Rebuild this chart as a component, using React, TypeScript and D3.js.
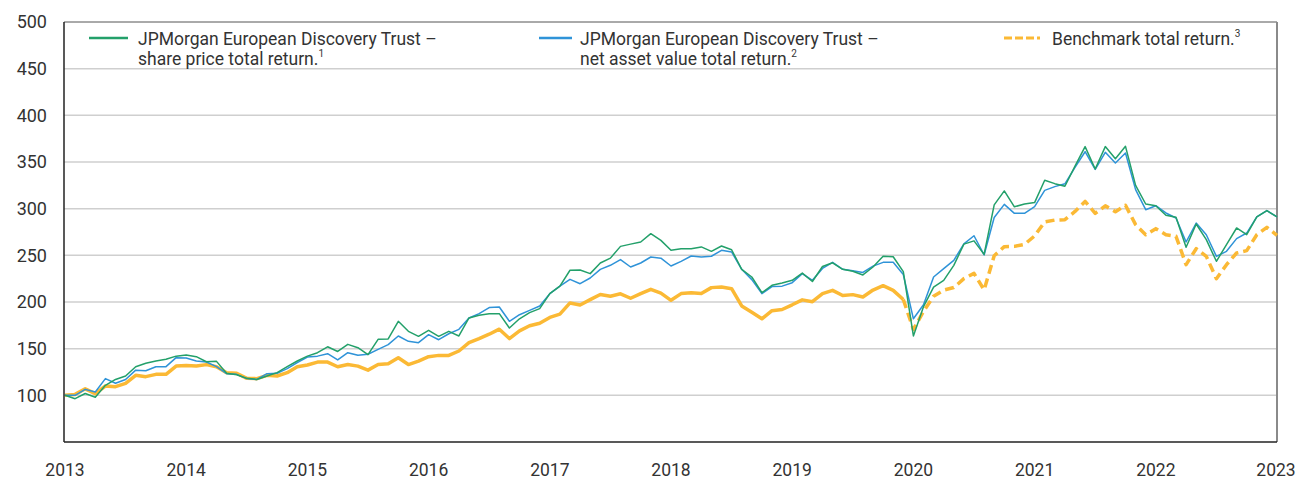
import React from "react";
import * as d3 from "d3";

const yTicks = [100, 150, 200, 250, 300, 350, 400, 450, 500];
const xTickYears = [2013, 2014, 2015, 2016, 2017, 2018, 2019, 2020, 2021, 2022, 2023];

// Monthly values, Jan 2013 .. Jan 2023 (rebased to 100)
const sharePrice = [
  100, 96.4, 102, 98, 110.7, 117, 120.7, 130.7, 134.3, 136.8, 138.6, 142,
  143.2, 141.4, 136, 136.4, 123.6, 122, 118.2, 117, 120.7, 124.3, 130.7, 136.8,
  142, 145.7, 152, 147, 154.6, 151, 143.6, 160, 160.4, 179.3, 168.6, 163.2,
  169.6, 163.2, 168.6, 163.6, 182.9, 185.7, 187.5, 187.5, 172.1, 182, 188.6, 192.9,
  208.9, 217, 234, 234.3, 230.4, 241.8, 247, 259.6, 262, 264.3, 273.2, 266,
  255.5, 257, 257, 259, 254.3, 260, 256, 235, 226.8, 210, 217.9, 220.4,
  223.2, 231, 222, 238, 242, 235, 233, 229, 237.5, 249, 248.5, 232.5,
  163.6, 195, 216, 223.2, 239.3, 262, 265.5, 251, 304, 319, 302, 305,
  306.5, 330.4, 326.8, 324, 345.5, 366.5, 342.5, 366.5, 353.4, 366.8, 325, 305,
  303.2, 292.9, 290.7, 258.6, 283.6, 266.8, 243.6, 261.4, 279.3, 272.1, 291.1, 297.9,
  291.1,
];

const netAssetValue = [
  100, 100, 106.4, 103.6, 117.9, 112.9, 117, 127, 126.4, 130.7, 130.7, 140.4,
  140, 136.8, 135.7, 130.7, 123.2, 122.5, 117.9, 117, 123.2, 123.6, 128.6, 135,
  141, 142, 144.6, 137.9, 145.7, 142.9, 144, 149.3, 154.3, 163.6, 157.9, 156.4,
  165, 159.6, 166, 170.7, 182.9, 187.5, 194, 194.6, 179.3, 186.4, 191, 195.7,
  208.9, 217, 224.3, 219.6, 225.7, 235, 239.3, 245.4, 237.5, 241.8, 248.2, 247,
  238.6, 243.6, 249.3, 248.2, 249, 255.4, 253.6, 235, 224, 209, 216.5, 217,
  220.7, 230.4, 223.2, 236, 242.5, 235, 233.5, 231.7, 238.4, 242.5, 242.5, 229.5,
  182, 197, 226.8, 235.7, 244.6, 262.3, 271, 250.4, 290.6, 304.6, 295, 295,
  302.2, 319.6, 323.6, 326.6, 344.2, 361, 342, 360.4, 348.9, 359.6, 320.4, 298.9,
  303.2, 295.4, 290, 264.3, 284.6, 272.1, 248.9, 254.3, 267.9, 273.9, 291.1, 297.9,
  291.1,
];

const benchmark = [
  100, 101, 107, 101.8, 110, 109.3, 112.9, 121.4, 120, 122.5, 122.5, 131.4,
  132, 131.4, 132.9, 130.7, 124.3, 123.6, 118.2, 117.9, 121.4, 120.7, 124.3, 130.7,
  132.5, 135.6, 135.6, 130.6, 133, 131.3, 127, 133, 133.8, 140.3, 133, 136.7,
  141.4, 142.8, 142.8, 147.5, 156.5, 160.8, 165.5, 170.9, 160.8, 169, 174.5, 177.3,
  183.5, 187, 199, 196.8, 202.5, 208, 206.2, 208.8, 204, 209, 213.6, 209.5,
  201.8, 209, 210, 209, 215.4, 216, 214.3, 195.8, 189, 182, 190.7, 192,
  197, 202.3, 200.3, 209, 212.5, 207, 207.9, 205.4, 212.8, 217.5, 212.5, 202.7,
  170.5, 190, 206.2, 212.8, 215.5, 225, 230.7, 213, 249.5, 259.3, 259.6, 261.8,
  270.8, 285.7, 287.8, 288.2, 297, 307.8, 295, 303, 296.8, 303.6, 282.9, 272.1,
  278.6, 272.1, 270.4, 240, 257.1, 248.9, 225, 240, 252.5, 255, 272.1, 280,
  271.4,
];

const dashedFromIndex = 83;

const GREEN = "#23a06a";
const BLUE = "#2f93d8";
const YELLOW = "#fbb935";
const TEXT = "#333333";
const FONT = "Roboto, 'Noto Sans', sans-serif";

export default function App() {
  const W = 1297;
  const H = 481;
  const left = 64;
  const right = 1277;
  const top = 22;
  const bottom = 442;

  const x = d3.scaleLinear().domain([2013, 2023]).range([65, 1277]);
  const y = d3.scaleLinear().domain([50, 500]).range([bottom, top]);

  const line = d3
    .line<[number, number]>()
    .x((d) => x(2013 + d[0] / 12))
    .y((d) => y(d[1]))
    .curve(d3.curveLinear);

  const toPts = (arr: number[]) => arr.map((v, i) => [i, v] as [number, number]);
  const benchPts = toPts(benchmark);
  const benchSolid = benchPts.slice(0, dashedFromIndex + 1);
  const benchDashed = benchPts.slice(dashedFromIndex);

  return (
    <svg
      width={W}
      height={H}
      style={{ position: "absolute", left: 0, top: 0, display: "block", background: "#fff" }}
      fontFamily={FONT}
    >
      {/* gridlines */}
      {yTicks.slice(0, -1).map((t) => (
        <line key={t} x1={left} x2={right} y1={y(t)} y2={y(t)} stroke="#cfcfcf" strokeWidth={1.5} />
      ))}
      {/* frame */}
      <line x1={left} x2={right} y1={top} y2={top} stroke="#555" strokeWidth={1} />
      <line x1={right} x2={right} y1={top} y2={bottom} stroke="#8a8a8a" strokeWidth={2} />

      {/* series */}
      <path d={line(benchSolid) || ""} fill="none" stroke={YELLOW} strokeWidth={3.5} strokeLinejoin="round" />
      <path
        d={line(benchDashed) || ""}
        fill="none"
        stroke={YELLOW}
        strokeWidth={3.5}
        strokeDasharray="9 5"
        strokeLinejoin="round"
      />
      <path d={line(toPts(netAssetValue)) || ""} fill="none" stroke={BLUE} strokeWidth={1.5} strokeLinejoin="round" />
      <path d={line(toPts(sharePrice)) || ""} fill="none" stroke={GREEN} strokeWidth={1.5} strokeLinejoin="round" />

      {/* axes */}
      <line x1={left} x2={left} y1={top} y2={bottom} stroke="#222" strokeWidth={1.5} />
      <line x1={left} x2={right} y1={bottom} y2={bottom} stroke="#222" strokeWidth={1.5} />

      {yTicks.map((t) => (
        <text key={t} x={47} y={y(t)} dy="0.36em" textAnchor="end" fontSize={18} fill={TEXT}>
          {t}
        </text>
      ))}
      {xTickYears.map((yr) => (
        <text key={yr} x={Math.min(x(yr), 1276)} y={476} textAnchor="middle" fontSize={17.5} fill={TEXT}>
          {yr}
        </text>
      ))}

      {/* legend */}
      <g fontSize={17.5} fill={TEXT}>
        <line x1={89} x2={128} y1={38} y2={38} stroke={GREEN} strokeWidth={2.5} />
        <text x={138} y={45}>JPMorgan European Discovery Trust –</text>
        <text x={138} y={65}>
          share price total return.
          <tspan fontSize={10} dy={-8}>1</tspan>
        </text>

        <line x1={539} x2={572} y1={38} y2={38} stroke={BLUE} strokeWidth={2.5} />
        <text x={580} y={45}>JPMorgan European Discovery Trust –</text>
        <text x={580} y={65}>
          net asset value total return.
          <tspan fontSize={10} dy={-8}>2</tspan>
        </text>

        <line x1={1004} x2={1040} y1={38} y2={38} stroke={YELLOW} strokeWidth={3} strokeDasharray="8 3" />
        <text x={1052} y={45}>
          Benchmark total return.
          <tspan fontSize={10} dy={-8}>3</tspan>
        </text>
      </g>
    </svg>
  );
}
